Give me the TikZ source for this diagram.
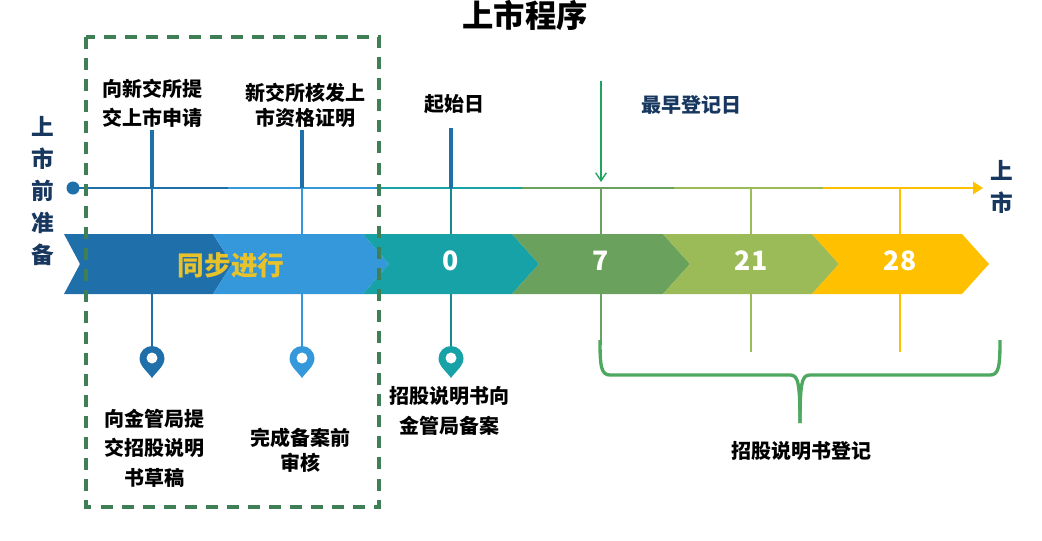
\documentclass[tikz,border=0pt]{standalone}
\usepackage{fontspec}
\usetikzlibrary{arrows.meta}
\setmainfont{Noto Sans CJK SC}
\definecolor{darkblue}{HTML}{1F6FAB}
\definecolor{midblue}{HTML}{3498DB}
\definecolor{tealband}{HTML}{17A2A8}
\definecolor{greenband}{HTML}{6AA15C}
\definecolor{limeband}{HTML}{9BBB59}
\definecolor{yellowband}{HTML}{FFC000}
\definecolor{navytext}{HTML}{17375E}
\definecolor{boxgreen}{HTML}{3F7F55}
\definecolor{bracegreen}{HTML}{4FA860}
\definecolor{arrowgreen}{HTML}{1FA35F}
\definecolor{goldtext}{HTML}{E8C22A}
\tikzset{
 stepwide/.style={align=center, font=\fontsize{15}{22}\selectfont\bfseries},
 stepnarrow/.style={align=center, font=\fontsize{15}{19}\selectfont\bfseries},
 sidelabel/.style={align=center, text=navytext, font=\fontsize{17}{24}\selectfont\bfseries},
 daynum/.style={text=white, font=\fontsize{20}{24}\selectfont\bfseries},
 toptick/.style={line width=2.4pt},
 droptick/.style={line width=1.4pt},
 thindrop/.style={line width=1pt}
}
\newcommand{\mapmark}[2]{
 \fill[#2, shift={(#1)}] (-12.5,12.5) arc[start angle=180, end angle=360, radius=12.5] .. controls (12.5,20) and (4,26) .. (0,32) .. controls (-4,26) and (-12.5,20) .. cycle;
 \fill[white, shift={(#1)}] (0,12) circle[radius=5.5];
}
\begin{document}
\begin{tikzpicture}[x=0.75pt,y=-0.75pt]
 \useasboundingbox (0,0) rectangle (1042,540);

 % time line
 \coordinate (startdot) at (73,188);
 \coordinate (lineb) at (228,188);
 \coordinate (linec) at (375,188);
 \coordinate (lined) at (522,188);
 \coordinate (linee) at (674,188);
 \coordinate (linef) at (823,188);
 \coordinate (lineend) at (973,188);
 \fill[darkblue] (startdot) circle[radius=6.5];
 \draw[darkblue, line width=1.3pt] (startdot) -- (lineb);
 \draw[midblue, line width=1.3pt] (lineb) -- (linec);
 \draw[tealband, line width=1.3pt] (linec) -- (lined);
 \draw[greenband, line width=1.3pt] (lined) -- (linee);
 \draw[limeband, line width=1.3pt] (linee) -- (linef);
 \draw[yellowband, line width=1.3pt] (linef) -- (lineend);
 \fill[yellowband] (lineend) ++(0,-6.5) -- ++(10,6.5) -- ++(-10,6.5) -- cycle;

 % upper labels
 \node[stepwide] (applyhk) at (152,103) {向新交所提\\交上市申请};
 \node[stepnarrow] (permit) at (305,105.5) {新交所核发上\\市资格证明};
 \node[stepnarrow] (startday) at (454,104) {起始日};
 \node[stepnarrow, text=navytext] (earliest) at (691,105) {最早登记日};

 \coordinate (tickaup) at (152,130);
 \coordinate (tickbup) at (302,130);
 \coordinate (tickcup) at (451,128);
 \coordinate (ticka) at (152,188);
 \coordinate (tickb) at (302,188);
 \coordinate (tickc) at (451,188);
 \coordinate (tickd) at (601,188);
 \coordinate (ticke) at (751,188);
 \coordinate (tickf) at (900,188);
 \coordinate (arrowtop) at (601,81);
 \coordinate (arrowend) at (601,182);
 \draw[darkblue, toptick] (tickaup) -- (ticka);
 \draw[darkblue, toptick] (tickbup) -- (tickb);
 \draw[darkblue, toptick] (tickcup) -- (tickc);
 \draw[arrowgreen, line width=1pt, -{Straight Barb[length=6pt,width=8pt]}] (arrowtop) -- (arrowend);

 % lower pins
 \coordinate (pina) at (152,346);
 \coordinate (pinb) at (302,346);
 \coordinate (pinc) at (451,346);
 \coordinate (dropd) at (601,345);
 \coordinate (drope) at (751,352);
 \coordinate (dropf) at (900,352);
 \draw[darkblue, droptick] (ticka) -- (pina);
 \draw[midblue, thindrop] (tickb) -- (pinb);
 \draw[tealband!85!black, droptick] (tickc) -- (pinc);
 \draw[greenband, droptick] (tickd) -- (dropd);
 \draw[limeband, thindrop] (ticke) -- (drope);
 \draw[yellowband, droptick] (tickf) -- (dropf);
 \mapmark{pina}{darkblue}
 \mapmark{pinb}{midblue}
 \mapmark{pinc}{tealband}

 % bands
 \fill[darkblue] (64,234) -- (213,234) -- (232,264) -- (213,294) -- (64,294) -- (80,264) -- cycle;
 \fill[midblue] (213,234) -- (363,234) -- (389,264) -- (363,294) -- (213,294) -- (232,264) -- cycle;
 \fill[tealband] (363,234) -- (512,234) -- (539,264) -- (512,294) -- (363,294) -- (389,264) -- cycle;
 \fill[greenband] (512,234) -- (663,234) -- (690,264) -- (663,294) -- (512,294) -- (539,264) -- cycle;
 \fill[limeband] (663,234) -- (812,234) -- (839,264) -- (812,294) -- (663,294) -- (690,264) -- cycle;
 \fill[yellowband] (812,234) -- (962,234) -- (989,264) -- (962,294) -- (812,294) -- (839,264) -- cycle;

 \node[text=goldtext, font=\fontsize{20}{24}\selectfont\bfseries] (sync) at (231,265) {同步进行};
 \node[daynum] (dayzero) at (451,261) {0};
 \node[daynum] (dayseven) at (601,261) {7};
 \node[daynum] (daytwentyone) at (751,261) {21};
 \node[daynum] (daytwentyeight) at (900,261) {28};

 % lower labels
 \node[stepwide] (draftmas) at (154,448) {向金管局提\\交招股说明\\书草稿};
 \node[stepnarrow] (prefiling) at (300,450) {完成备案前\\审核};
 \node[stepwide] (filing) at (449,411) {招股说明书向\\金管局备案};
 \node[stepnarrow] (register) at (801,451) {招股说明书登记};

 % brace
 \coordinate (braceleft) at (600,340);
 \coordinate (braceright) at (1000,340);
 \coordinate (bracetip) at (800,423);
 \draw[bracegreen, line width=2.5pt] (braceleft) .. controls (600,366) and (601,375) .. (610,375) -- (790,375) .. controls (798,375) and (800,382) .. (bracetip);
 \draw[bracegreen, line width=2.5pt] (braceright) .. controls (1000,366) and (999,375) .. (990,375) -- (810,375) .. controls (802,375) and (800,382) .. (bracetip);

 % side labels
 \node[sidelabel] (prepare) at (43,191) {上\\市\\前\\准\\备};
 \node[sidelabel] (listing) at (1002,187) {上\\市};
 \node[font=\fontsize{23.5}{28}\selectfont\bfseries] (title) at (525,15) {上市程序};

 % dashed frame
 \draw[boxgreen, line width=2.4pt, dash pattern=on 9pt off 6.8pt] (86,37) rectangle (379,507);
\end{tikzpicture}
\end{document}
